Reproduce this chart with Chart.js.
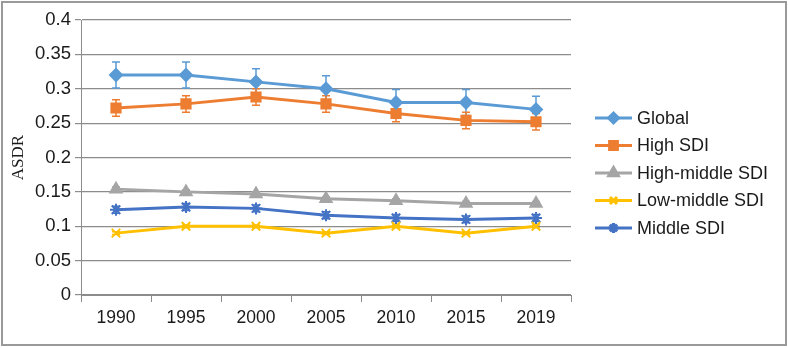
<!DOCTYPE html>
<html>
<head>
<meta charset="utf-8">
<script src="https://cdn.jsdelivr.net/npm/chart.js@4"></script>
<style>
  html, body { margin: 0; padding: 0; background: #fff; }
  #wrap { position: relative; width: 788px; height: 348px; }
</style>
</head>
<body>
<div id="wrap"><canvas id="asdrChart" width="788" height="348"></canvas></div>
<script>
// values
const years = ["1990", "1995", "2000", "2005", "2010", "2015", "2019"];
const yTicks = [0, 0.05, 0.1, 0.15, 0.2, 0.25, 0.3, 0.35, 0.4];

const globalVals = [0.32, 0.32, 0.31, 0.30, 0.28, 0.28, 0.27];
const globalErr = [0.019, 0.019, 0.019, 0.019, 0.019, 0.019, 0.019];
const highVals = [0.272, 0.278, 0.288, 0.278, 0.264, 0.254, 0.252];
const highErr = [0.012, 0.012, 0.012, 0.012, 0.012, 0.012, 0.012];
const highMidVals = [0.154, 0.150, 0.147, 0.140, 0.137, 0.133, 0.133];
const highMidErr = [0.003, 0.003, 0.003, 0.003, 0.003, 0.003, 0.003];
const lowMidVals = [0.09, 0.10, 0.10, 0.09, 0.10, 0.09, 0.10];
const lowMidErr = [0.002, 0.002, 0.002, 0.002, 0.002, 0.002, 0.002];
const midVals = [0.124, 0.128, 0.126, 0.116, 0.112, 0.110, 0.112];
const midErr = [0.005, 0.005, 0.005, 0.005, 0.005, 0.005, 0.005];

const series = [
  { label: "Global", data: globalVals, err: globalErr, color: "#5b9bd5", style: "rectRot", r: 6 },
  { label: "High SDI", data: highVals, err: highErr, color: "#ed7d31", style: "rect", r: 6.5 },
  { label: "High-middle SDI", data: highMidVals, err: highMidErr, color: "#a5a5a5", style: "triangle", r: 6.5 },
  { label: "Low-middle SDI", data: lowMidVals, err: lowMidErr, color: "#ffc000", style: "crossRot", r: 6 },
  { label: "Middle SDI", data: midVals, err: midErr, color: "#4472c4", style: "star", r: 6 },
];

// vertical error bars, drawn under the markers
const errorBars = {
  id: "errorBars",
  beforeDatasetsDraw(chart) {
    const { ctx, scales } = chart;
    chart.data.datasets.forEach((ds) => {
      ctx.save();
      ctx.strokeStyle = ds.borderColor;
      ctx.lineWidth = 1.5;
      ds.data.forEach((v, i) => {
        const x = scales.x.getPixelForValue(i);
        const yHi = scales.y.getPixelForValue(v + ds.err[i]);
        const yLo = scales.y.getPixelForValue(v - ds.err[i]);
        ctx.beginPath();
        ctx.moveTo(x, yHi); ctx.lineTo(x, yLo);
        ctx.moveTo(x - 4, yHi); ctx.lineTo(x + 4, yHi);
        ctx.moveTo(x - 4, yLo); ctx.lineTo(x + 4, yLo);
        ctx.stroke();
      });
      ctx.restore();
    });
  },
};

// legend with line + marker, plus the outer frame
const sideLegend = {
  id: "sideLegend",
  afterDraw(chart) {
    const { ctx } = chart;
    ctx.save();
    ctx.strokeStyle = "#9a9a9a";
    ctx.lineWidth = 2;
    ctx.strokeRect(2, 2, 784, 343);
    ctx.font = "18px 'Liberation Sans', Arial, sans-serif";
    ctx.textBaseline = "middle";
    chart.data.datasets.forEach((ds, i) => {
      const y = 118 + i * 27.5;
      ctx.strokeStyle = ds.borderColor;
      ctx.lineWidth = 3;
      ctx.beginPath();
      ctx.moveTo(595, y); ctx.lineTo(632, y);
      ctx.stroke();
      ctx.fillStyle = ds.borderColor;
      Chart.helpers.drawPoint(ctx, {
        pointStyle: ds.pointStyle, radius: ds.pointRadius - 1, borderWidth: 2, rotation: 0,
      }, 613.5, y);
      ctx.fillStyle = "#1a1a1a";
      ctx.fillText(ds.label, 637, y + 1);
    });
    ctx.restore();
  },
};

new Chart(document.getElementById("asdrChart"), {
  type: "line",
  data: {
    labels: years,
    datasets: series.map((s) => ({
      label: s.label,
      data: s.data,
      err: s.err,
      borderColor: s.color,
      backgroundColor: s.color,
      pointBackgroundColor: s.color,
      pointBorderColor: s.color,
      pointStyle: s.style,
      pointRadius: s.r,
      pointBorderWidth: 2,
      borderWidth: 3,
      tension: 0,
    })),
  },
  options: {
    responsive: false,
    animation: false,
    events: [],
    layout: { padding: { top: 20, right: 217, left: 0, bottom: 0 } },
    plugins: { legend: { display: false }, tooltip: { enabled: false } },
    scales: {
      x: {
        offset: true,
        grid: { offset: true, drawOnChartArea: false, drawTicks: true, tickLength: 7, color: "#8c8c8c" },
        border: { color: "#8c8c8c" },
        ticks: { color: "#1a1a1a", padding: 6, font: { family: "'Liberation Sans', Arial", size: 17.5 } },
        afterFit: (scale) => { scale.height = 53; },
      },
      y: {
        min: 0,
        max: 0.4,
        afterBuildTicks: (scale) => { scale.ticks = yTicks.map((v) => ({ value: v })); },
        grid: { color: "#8c8c8c", tickLength: 6, lineWidth: 1.2 },
        border: { color: "#8c8c8c" },
        ticks: {
          color: "#1a1a1a",
          padding: 4,
          font: { family: "'Liberation Sans', Arial", size: 18.5 },
          callback: (v) => String(Math.round(v * 100) / 100),
        },
        title: {
          display: true,
          text: "ASDR",
          color: "#1a1a1a",
          padding: { top: 8, bottom: 0 },
          font: { family: "'Liberation Serif', 'Times New Roman', serif", size: 17 },
        },
        afterFit: (scale) => { scale.width = 81; },
      },
    },
  },
  plugins: [errorBars, sideLegend],
});
</script>
</body>
</html>
